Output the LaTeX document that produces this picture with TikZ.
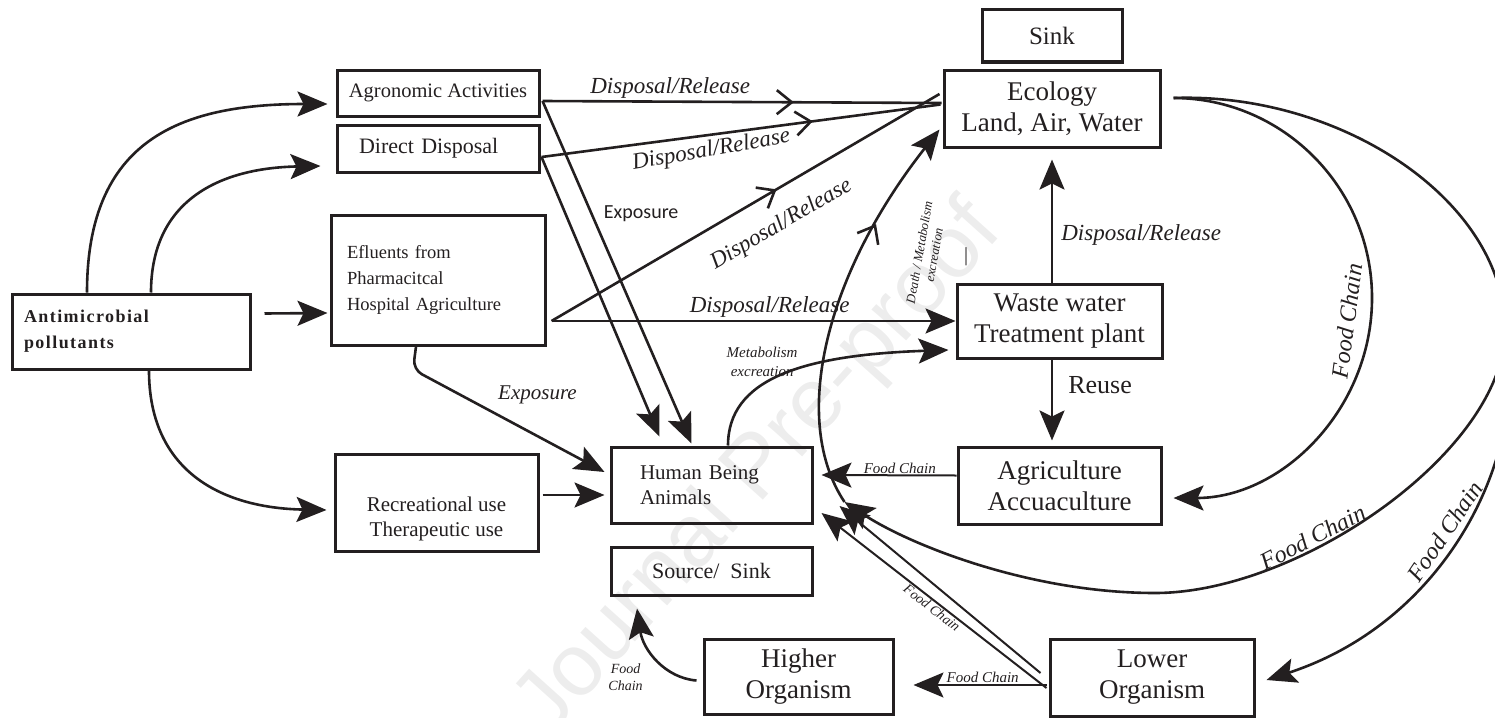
\documentclass[tikz,border=0pt]{standalone}
\usepackage{fontspec}
\setmainfont{Liberation Serif}
\newfontfamily\sansexp{Carlito}
\newfontfamily\wmfont{Liberation Sans}
\newfontfamily\spacedbf{Liberation Serif}[LetterSpace=8]
\usetikzlibrary{positioning, arrows.meta, decorations.markings}
\definecolor{ink}{RGB}{35,31,32}

\tikzset{
    box/.style={draw=ink, line width=3pt, rectangle, inner sep=0pt, align=center, text=ink},
    bigtext/.style={font=\fontsize{27}{31}\selectfont},
    flow/.style={draw=ink, line width=2.6pt},
    thinflow/.style={draw=ink, line width=2pt},
    head/.style={-{Stealth[length=30pt, width=25pt, inset=6pt]}},
    midarrow/.style={postaction={decorate}, decoration={markings, mark=at position #1 with {\arrow{Straight Barb[length=15pt, width=24pt]}}}},
    rel/.style={font=\itshape\fontsize{23}{26}\selectfont, text=ink, inner sep=1pt},
    fc/.style={font=\itshape\fontsize{15}{18}\selectfont, text=ink, inner sep=1pt},
    fcbig/.style={font=\itshape\fontsize{24}{28}\selectfont, text=ink, inner sep=2pt}
}

\begin{document}
\begin{tikzpicture}[x=1pt, y=-1pt]
    \useasboundingbox (0,0) rectangle (1495,717);
    \clip (0,0) rectangle (1495,717);
    \node (wm) [rotate=48, text=black!7, font=\wmfont\fontsize{88}{88}\selectfont] at (760,470) {Journal Pre-proof};

    % boxes
    \node (amp) [box, text width=214pt, inner xsep=12pt, minimum height=75pt, align=left, font=\spacedbf\bfseries\fontsize{18}{26}\selectfont] at (131,331.5) {Antimicrobial\\pollutants};
    \node (agro) [box, minimum width=202pt, minimum height=46pt, font=\fontsize{20.5}{24}\selectfont] at (438,93) {Agronomic Activities};
    \node (direct) [box, text width=158pt, inner xsep=22pt, minimum height=47pt, align=left, font=\fontsize{22}{26}\selectfont] at (438,148.5) {Direct Disposal};
    \node (eff) [box, text width=182pt, inner xsep=16pt, minimum height=130pt, align=left, font=\fontsize{18.5}{26}\selectfont] at (438,280) {Efluents from\\Pharmacitcal\\Hospital Agriculture};
    \node (rec) [box, minimum width=203pt, minimum height=97pt, font=\fontsize{21}{25}\selectfont] at (436.5,502.5) {\rule{0pt}{47pt}Recreational use\\Therapeutic use};
    \node (hum) [box, text width=143pt, inner xsep=29pt, minimum height=76pt, align=left, font=\fontsize{21}{25}\selectfont] at (711.5,485) {Human Being\\Animals};
    \node (src) [box, minimum width=201pt, minimum height=48pt, below=21pt of hum, font=\fontsize{22}{26}\selectfont] {Source/~ Sink};
    \node (high) [box, bigtext, minimum width=189pt, minimum height=75pt] at (798.5,676.5) {Higher\\Organism};
    \node (low) [box, bigtext, minimum width=204pt, minimum height=77pt] at (1152,677.5) {Lower\\Organism};
    \node (agri) [box, bigtext, minimum width=203pt, minimum height=77pt] at (1059.5,485.5) {Agriculture\\Accuaculture};
    \node (www) [box, bigtext, minimum width=205pt, minimum height=74pt] at (1059.5,321) {Waste water\\Treatment plant};
    \node (eco) [box, bigtext, minimum width=216pt, minimum height=77pt] at (1052,108.5) {Ecology\\Land, Air, Water};
    \node (sink) [box, minimum width=140pt, minimum height=52pt, above=5pt of eco, font=\fontsize{25}{28}\selectfont] {Sink};
    \node (tick) [font=\fontsize{20}{20}\selectfont, text=ink] at (966,257) {|};
    \coordinate (dm) at ([shift={(31pt,-17pt)}]hum.east);

    % sources
    \draw [flow, head] ([xshift=-44pt]amp.north) .. controls (87,140) and (180,104) .. ([shift={(-8pt,-11pt)}]agro.west);
    \draw [flow, head] ([xshift=20pt]amp.north) .. controls (151,200) and (220,168) .. ([shift={(-15pt,-17.5pt)}]direct.west);
    \draw [flow, head] ([shift={(13pt,18pt)}]amp.east) -- ([shift={(-2pt,-33pt)}]eff.west);
    \draw [flow, head] ([xshift=18pt]amp.south) .. controls (149,470) and (220,508) .. ([shift={(-7pt,-7.5pt)}]rec.west);
    \draw [flow, head] ([shift={(3pt,7.5pt)}]rec.east) -- ([shift={(-5pt,-10pt)}]hum.west);

    % exposure
    \draw [flow, head, rounded corners=10pt] ([xshift=-22pt]eff.south) -- ([shift={(-25pt,-23pt)}]eff.south) -- ([shift={(-5pt,13pt)}]hum.west) node [rel, pos=0.65, above=30pt, font=\itshape\fontsize{21}{24}\selectfont] {Exposure};
    \draw [flow, head] ([shift={(2pt,-8pt)}]agro.east) -- ([shift={(-20pt,2pt)}]hum.north) node [pos=0.33, right=10pt, font=\sansexp\fontsize{20}{24}\selectfont, text=ink, inner sep=1pt] {Exposure};
    \draw [flow, head] ([shift={(1pt,-8.5pt)}]direct.east) -- ([shift={(-52pt,9pt)}]hum.north);

    % disposal / release
    \draw [flow, midarrow=0.63] ([shift={(2pt,-8pt)}]agro.east) -- ([shift={(-1pt,5.5pt)}]eco.west) node [rel, pos=0.32, above=1pt] {Disposal/Release};
    \draw [flow, midarrow=0.68] ([shift={(1pt,-8.5pt)}]direct.east) -- ([shift={(-2pt,4pt)}]eco.west) node [rel, pos=0.42, below=3pt, rotate=10] {Disposal/Release};
    \draw [flow, midarrow=0.58] ([shift={(5pt,-41pt)}]eff.east) -- ([shift={(-3pt,14.5pt)}]eco.west) node [rel, pos=0.55, sloped, below=20pt] {Disposal/Release};
    \draw [flow, head] ([shift={(5pt,-41pt)}]eff.east) -- (www.west) node [rel, pos=0.54, above=1pt] {Disposal/Release};
    \draw [flow, head] (eco.south |- www.north) -- ([yshift=-11pt]eco.south) node [rel, pos=0.39, right=7pt] {Disposal/Release};
    \draw [flow, head] (eco.south |- www.south) -- ([shift={(-7.5pt,5pt)}]agri.north) node [pos=0.32, right=14pt, font=\fontsize{26}{30}\selectfont, text=ink, inner sep=1pt] {Reuse};
    \draw [flow, head] ([xshift=16.5pt]hum.north) .. controls (728,380) and (800,355) .. ([shift={(-7pt,-29pt)}]www.west) node [fc, pos=0.45, xshift=-10pt, yshift=18pt, align=center, font=\itshape\fontsize{15}{19}\selectfont] {Metabolism\\excreation};

    % food chain
    \draw [thinflow, head] ([yshift=10pt]agri.west) -- ([shift={(8pt,10pt)}]hum.east) node [fc, pos=0.42, above] {Food Chain};
    \draw [thinflow, head] ([shift={(-2pt,-7.5pt)}]low.west) -- ([shift={(19pt,-8.5pt)}]high.east) node [fc, pos=0.48, above] {Food Chain};
    \draw [thinflow, head] ([shift={(-8pt,4.5pt)}]low.west) -- ([shift={(26pt,-21pt)}]hum.east);
    \draw [thinflow, head] ([shift={(-2pt,-10.5pt)}]low.west) -- ([shift={(8pt,-28pt)}]hum.east) node [fc, pos=0.49, sloped, below, font=\itshape\fontsize{14}{17}\selectfont] {Food Chain};
    \draw [flow, head] ([shift={(-6pt,-4pt)}]high.west) .. controls (665,678) and (643,650) .. ([shift={(-74.5pt,-12pt)}]src.south) node [fc, pos=0.15, left=38pt, align=center, font=\itshape\fontsize{14}{17}\selectfont] {Food\\Chain};

    \draw [flow, head] ([shift={(12pt,10.5pt)}]eco.east) .. controls (1282.5,98) and (1372,187.5) .. (1372,298) .. controls (1372,408.5) and (1282.5,498) .. ([shift={(11pt,-12.5pt)}]agri.east) node [fcbig, pos=0.08, sloped, above=12pt] {Food Chain};
    \draw [flow, head] ([shift={(12pt,10.5pt)}]eco.east) .. controls (1340,92) and (1505,200) .. (1505,330) coordinate (rim) .. controls (1505,450) and (1300,593) .. (1155,593) node [fcbig, pos=0.65, sloped, above] {Food Chain} .. controls (1030,593) and (910,545) .. (dm);
    \draw [flow, head] (rim) .. controls (1530,450) and (1450,620) .. ([shift={(11pt,-2.5pt)}]low.east) node [fcbig, pos=0.53, sloped, above=2pt] {Food Chain};

    % death / metabolism
    \draw [flow, head, midarrow=0.72] (dm) .. controls (790,420) and (825,275) .. ([shift={(-3pt,-21pt)}]eco.west) node [fc, pos=0.78, xshift=51pt, yshift=-29pt, rotate=80, align=center, font=\itshape\fontsize{13}{15}\selectfont] {Death / Metabolism\\excreation};
\end{tikzpicture}
\end{document}
